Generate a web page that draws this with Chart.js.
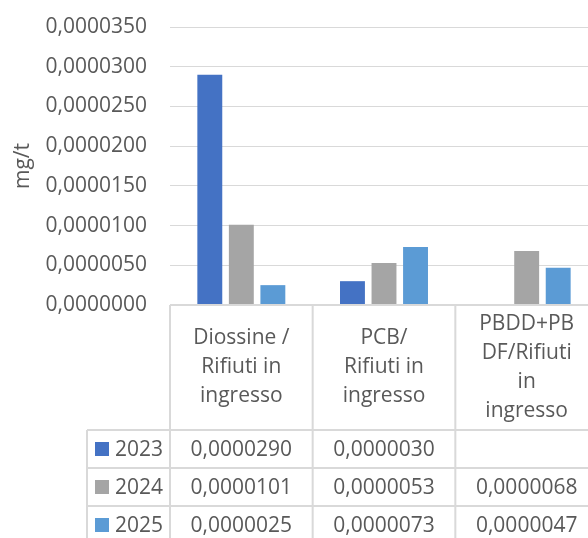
<!DOCTYPE html>
<html>
<head>
<meta charset="utf-8">
<script src="https://cdn.jsdelivr.net/npm/chart.js@4/dist/chart.umd.min.js"></script>
<style>
  html, body { margin: 0; padding: 0; background: #fff; overflow: hidden; }
  canvas { display: block; }
</style>
</head>
<body>
<canvas id="chart" width="598" height="538" style="width:598px;height:538px"></canvas>
<script>
// categorie (già spezzate su più righe come nella tabella dati)
const categories = [
  ["Diossine /", "Rifiuti in", "ingresso"],
  ["PCB/", "Rifiuti in", "ingresso"],
  ["PBDD+PB", "DF/Rifiuti", "in", "ingresso"]
];
const years = ["2023", "2024", "2025"];
const values2023 = [0.0000290, 0.0000030, null];
const values2024 = [0.0000101, 0.0000053, 0.0000068];
const values2025 = [0.0000025, 0.0000073, 0.0000047];
const colors = ["#4472C4", "#A5A5A5", "#5B9BD5"];
const yTicksMax = 0.000035;
const yTicksStep = 0.000005;

const textColor = "#595959";
const lineColor = "#d9d9d9";
const fontFamily = "'Open Sans', sans-serif";
const fontSize = 21;

const fmt = (v) => v.toFixed(7).replace(".", ",");

// tabella dati sotto il grafico (stile Excel)
const dataTable = {
  id: "dataTable",
  afterDraw(chart) {
    const { ctx, chartArea, scales: { x } } = chart;
    const series = chart.data.datasets;
    const colW = x.getPixelForValue(1) - x.getPixelForValue(0);
    const left = chartArea.left;
    const right = left + colW * categories.length;
    const top = chartArea.bottom;
    const headBottom = top + 125;
    const rowH = 38;
    const legLeft = left - 83;
    const bottom = chart.height + 10;

    ctx.save();
    ctx.strokeStyle = lineColor;
    ctx.lineWidth = 2;
    ctx.beginPath();
    ctx.moveTo(left, top); ctx.lineTo(right, top);
    for (let i = 0; i <= categories.length; i++) {
      ctx.moveTo(left + i * colW, top); ctx.lineTo(left + i * colW, bottom);
    }
    for (let k = 0; k <= series.length; k++) {
      const y = headBottom + k * rowH;
      ctx.moveTo(legLeft, y); ctx.lineTo(right, y);
    }
    ctx.moveTo(legLeft, headBottom); ctx.lineTo(legLeft, bottom);
    ctx.stroke();

    ctx.fillStyle = textColor;
    ctx.font = fontSize + "px " + fontFamily;
    ctx.textAlign = "center";
    ctx.textBaseline = "middle";
    const lh = 29;
    categories.forEach((lines, i) => {
      const cx = x.getPixelForValue(i);
      const y0 = (top + headBottom) / 2 - (lines.length - 1) * lh / 2;
      lines.forEach((t, j) => ctx.fillText(t, cx, y0 + j * lh));
    });

    series.forEach((ds, k) => {
      const cy = headBottom + k * rowH + rowH / 2;
      ctx.fillStyle = ds.backgroundColor;
      ctx.fillRect(legLeft + 8, cy - 7, 14, 14);
      ctx.fillStyle = textColor;
      ctx.textAlign = "left";
      ctx.fillText(ds.label, legLeft + 28, cy + 1);
      ctx.textAlign = "center";
      ds.data.forEach((v, i) => {
        if (v !== null) ctx.fillText(fmt(v), x.getPixelForValue(i), cy + 1);
      });
    });
    ctx.restore();
  }
};

new Chart(document.getElementById("chart"), {
  type: "bar",
  data: {
    labels: categories.map((c) => c.join(" ")),
    datasets: [
      { label: years[0], data: values2023, backgroundColor: colors[0] },
      { label: years[1], data: values2024, backgroundColor: colors[1] },
      { label: years[2], data: values2025, backgroundColor: colors[2] }
    ]
  },
  options: {
    responsive: false,
    animation: false,
    devicePixelRatio: 1,
    categoryPercentage: 0.663,
    barPercentage: 0.79,
    layout: { padding: { top: 27, left: 6, right: 0, bottom: 233 } },
    plugins: {
      legend: { display: false },
      tooltip: { enabled: false }
    },
    scales: {
      x: { display: false },
      y: {
        min: 0,
        max: yTicksMax,
        ticks: {
          stepSize: yTicksStep,
          padding: 23,
          color: textColor,
          font: { family: fontFamily, size: fontSize },
          callback: (v) => fmt(v)
        },
        grid: { color: lineColor, lineWidth: 1, drawTicks: false },
        border: { display: false },
        title: {
          display: true,
          text: "mg/t",
          color: textColor,
          font: { family: fontFamily, size: fontSize }
        },
        afterFit: (s) => {
          s.width = 164;
          // il padding dei tick non deve spostare l'area del grafico
          s.paddingTop = 12;
          s.paddingBottom = 12;
        }
      }
    }
  },
  plugins: [dataTable]
});
</script>
</body>
</html>
